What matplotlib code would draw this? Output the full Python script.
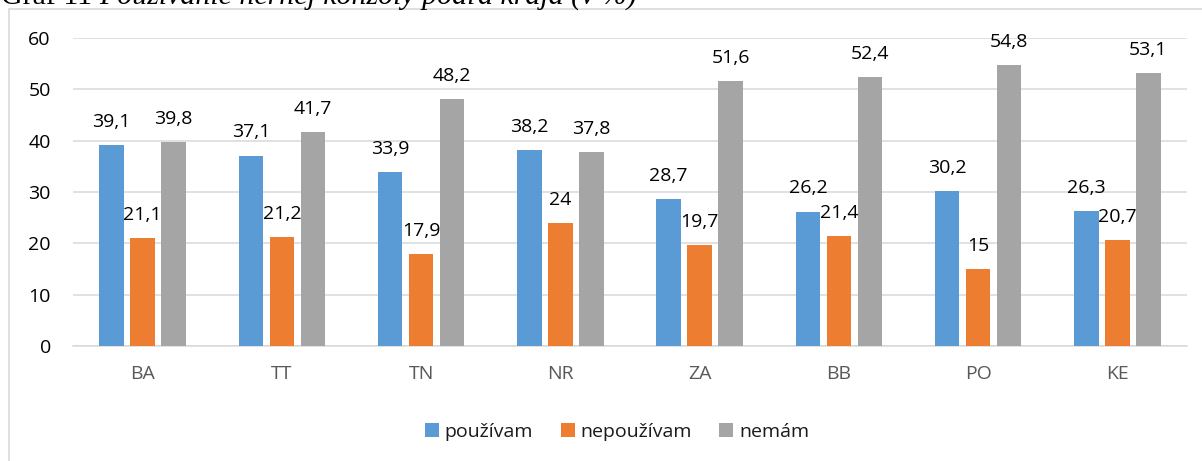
import matplotlib
matplotlib.use("Agg")
import matplotlib.pyplot as plt
from matplotlib.patches import Rectangle
import numpy as np

categories = ["BA", "TT", "TN", "NR", "ZA", "BB", "PO", "KE"]
pouzivam = [39.1, 37.1, 33.9, 38.2, 28.7, 26.2, 30.2, 26.3]
nepouzivam = [21.1, 21.2, 17.9, 24, 19.7, 21.4, 15, 20.7]
nemam = [39.8, 41.7, 48.2, 37.8, 51.6, 52.4, 54.8, 53.1]
series_names = ["používam", "nepoužívam", "nemám"]
colors = ["#5B9BD5", "#ED7D31", "#A5A5A5"]
title_label = "Graf 11 "
title_text = "Používanie hernej konzoly podľa kraja (v %)"
yticks = [0, 10, 20, 30, 40, 50, 60]

plt.rcParams['font.family'] = ['Open Sans', 'DejaVu Sans']
FS = 14

W, H = 1202, 461
fig = plt.figure(figsize=(W / 100, H / 100), dpi=100)

# outer chart frame (extends beyond image on right and bottom)
frame = Rectangle((9 / W, -0.1), 1.2, 1 - 9 / H + 0.1, transform=fig.transFigure,
                  fill=False, edgecolor="#D9D9D9", linewidth=1.2, zorder=0)
fig.patches.append(frame)

# caption above the chart, mostly cut off at top (as in the reference)
TFS = 21.5
t1 = fig.text(1 / W, 1 - 4 / H, title_label, family="Liberation Serif",
              fontsize=TFS, va="baseline", ha="left", color="black")
fig.canvas.draw()
bb = t1.get_window_extent()
fig.text(bb.x1 / W, 1 - 4 / H, title_text, family="Liberation Serif", style="italic",
         fontsize=TFS, va="baseline", ha="left", color="black")

left, right = 73 / W, 1187 / W
bottom, top = (H - 346) / H, (H - 38) / H
ax = fig.add_axes([left, bottom, right - left, top - bottom])

x = np.arange(len(categories))
bw = 0.176
offs = [-0.222, 0.0, 0.222]
data = [pouzivam, nepouzivam, nemam]
for vals, off, c, name in zip(data, offs, colors, series_names):
    ax.bar(x + off, vals, width=bw, color=c, label=name, zorder=3)
    for xi, v in zip(x + off, vals):
        lab = ("%g" % v).replace(".", ",")
        ax.annotate(lab, (xi, v), xytext=(0, 13), textcoords="offset points",
                    ha="center", va="baseline", fontsize=FS, color="black", zorder=4)

ax.set_xlim(-0.5, len(categories) - 0.5)
ax.set_ylim(0, 60)
ax.set_yticks(yticks)
ax.set_yticklabels([str(t) for t in yticks], fontsize=FS, color="black")
ax.set_xticks(x)
ax.set_xticklabels(categories, fontsize=FS, color="#595959")
ax.tick_params(axis="both", length=0)
ax.tick_params(axis="y", pad=16)
ax.tick_params(axis="x", pad=14)
ax.yaxis.grid(True, color="#D9D9D9", linewidth=1.1, zorder=0)
ax.set_axisbelow(True)
for s in ["top", "right", "left"]:
    ax.spines[s].set_visible(False)
ax.spines["bottom"].set_color("#D9D9D9")
ax.spines["bottom"].set_linewidth(1.1)

leg = fig.legend(loc="center", bbox_to_anchor=(617 / W, 1 - 432 / H), ncol=3,
                 frameon=False, fontsize=FS, handlelength=0.72, handleheight=0.72,
                 handletextpad=0.3, columnspacing=1.4)
for t in leg.get_texts():
    t.set_color("#1a1a1a")

fig.savefig("out.png", dpi=100)
